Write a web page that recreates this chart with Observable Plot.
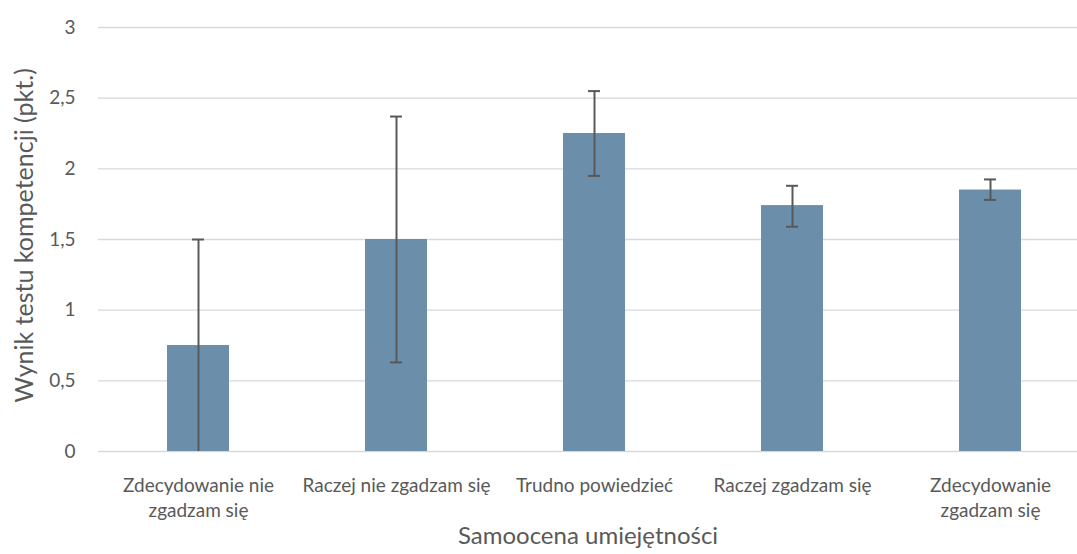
<!DOCTYPE html>
<html><head><meta charset="utf-8">
<script src="https://cdn.jsdelivr.net/npm/d3@7"></script>
<script src="https://cdn.jsdelivr.net/npm/@observablehq/plot@0.6"></script>
<style>
body{margin:0;background:#fff;}
</style>
</head><body>
<div id="chart"></div>
<script>
const categories = ["Zdecydowanie nie zgadzam się","Raczej nie zgadzam się","Trudno powiedzieć","Raczej zgadzam się","Zdecydowanie zgadzam się"];
const tickLabels = ["Zdecydowanie nie\nzgadzam się","Raczej nie zgadzam się","Trudno powiedzieć","Raczej zgadzam się","Zdecydowanie\nzgadzam się"];
const means = [0.75, 1.5, 2.25, 1.74, 1.85];
const lower = [0, 0.63, 1.95, 1.59, 1.78];
const upper = [1.5, 2.37, 2.55, 1.88, 1.925];
const yTicks = [0, 0.5, 1, 1.5, 2, 2.5, 3];

const data = categories.map((c,i)=>({c, label: tickLabels[i], m: means[i], lo: lower[i], hi: upper[i]}));
const fmt = v => String(v).replace(".", ",");

const chart = Plot.plot({
  width: 1077, height: 554,
  marginLeft: 98, marginRight: 0, marginTop: 27, marginBottom: 103,
  style: {fontFamily: "Lato, sans-serif", background: "#fff"},
  x: {domain: categories, range: [98, 1089], paddingInner: 0.687, paddingOuter: 0.3435, label: null, axis: null},
  y: {domain: [0, 3], ticks: yTicks, label: null, axis: null},
  marks: [
    Plot.ruleY(yTicks, {stroke: "#d9d9d9", strokeWidth: 1.3}),
    Plot.barY(data, {x: "c", y: "m", fill: "#6b8fab"}),
    Plot.ruleX(data, {x: "c", y1: "lo", y2: "hi", stroke: "#595959", strokeWidth: 2}),
    Plot.tickY(data, {x: "c", y: "hi", stroke: "#595959", strokeWidth: 2, insetLeft: 25, insetRight: 25}),
    Plot.tickY(data.filter(d=>d.lo>0), {x: "c", y: "lo", stroke: "#595959", strokeWidth: 2, insetLeft: 25, insetRight: 25}),
    Plot.axisY(yTicks, {tickSize: 0, tickPadding: 0, dx: -23, tickFormat: fmt, fontSize: 19, fill: "#595959", label: null}),
    Plot.axisX(categories, {tickSize: 0, tickPadding: 0, dy: 22.5, tickFormat: (d)=>tickLabels[categories.indexOf(d)], lineHeight: 1.32, fontSize: 19, fill: "#595959", label: null}),
    Plot.text(["Samoocena umiejętności"], {frameAnchor: "bottom", dy: 92, fontSize: 24, fill: "#595959"}),
    Plot.text(["Wynik testu kompetencji (pkt.)"], {frameAnchor: "left", textAnchor: "middle", dx: -74, dy: -4, rotate: -90, fontSize: 25, fill: "#595959"})
  ]
});
document.getElementById("chart").appendChild(chart);
</script>
</body></html>
